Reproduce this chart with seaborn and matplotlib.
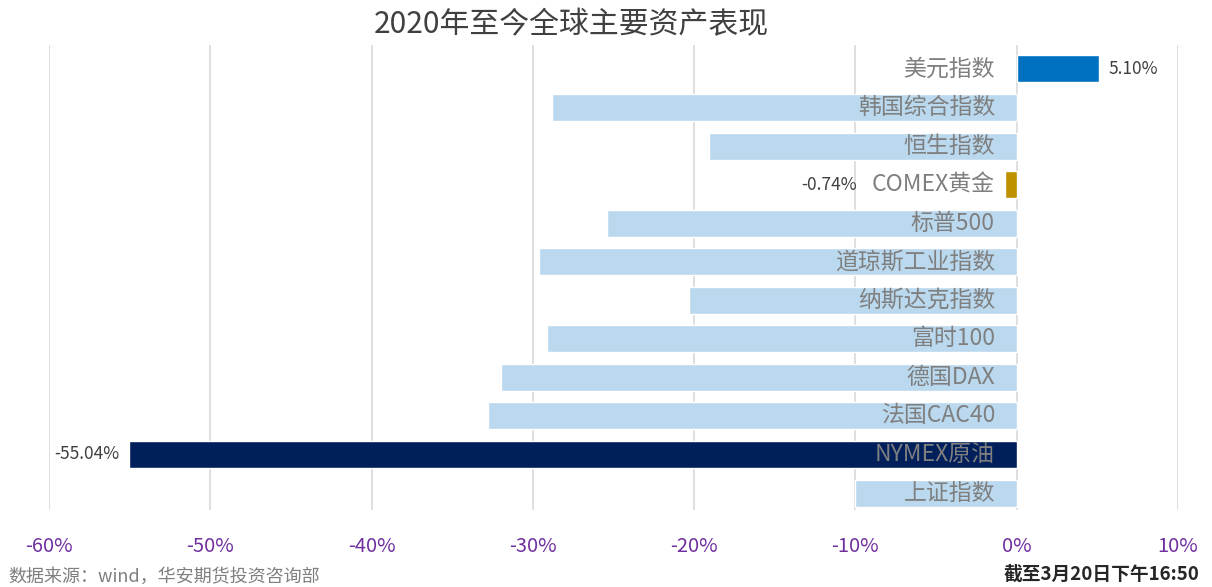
import matplotlib
matplotlib.use("Agg")
import matplotlib.pyplot as plt
import seaborn as sns
import pandas as pd

categories = ["美元指数", "韩国综合指数", "恒生指数", "COMEX黄金", "标普500", "道琼斯工业指数",
              "纳斯达克指数", "富时100", "德国DAX", "法国CAC40", "NYMEX原油", "上证指数"]
values = [5.10, -28.8, -19.1, -0.74, -25.4, -29.6, -20.3, -29.1, -32.0, -32.8, -55.04, -10.0]
labeled = {"美元指数": "5.10%", "COMEX黄金": "-0.74%", "NYMEX原油": "-55.04%"}
xticks = [-60, -50, -40, -30, -20, -10, 0, 10]

light = "#BAD8EE"
colors = {c: light for c in categories}
colors["美元指数"] = "#0070C0"
colors["COMEX黄金"] = "#BF9000"
colors["NYMEX原油"] = "#001F5B"

sns.set_theme(style="white")
plt.rcParams["font.family"] = ["Noto Sans CJK SC", "DejaVu Sans"]

df = pd.DataFrame({"cat": categories, "val": values})

fig = plt.figure(figsize=(12.12, 5.87), dpi=100)
ax = fig.add_axes([49 / 1212, 1 - 510 / 587, (1178 - 49) / 1212, (510 - 45) / 587])

sns.barplot(data=df, x="val", y="cat", hue="cat", palette=colors, legend=False,
            width=0.7, ax=ax, zorder=2, saturation=1)

ax.set_xlim(-60, 10)
ax.set_ylim(11.44, -0.62)
ax.set_xticks(xticks)
ax.set_xticklabels([f"{t}%" for t in xticks], color="#7030A0", fontsize=14.5)
ax.tick_params(axis="x", length=0, pad=19)
ax.set_yticks([])
ax.set_xlabel("")
ax.set_ylabel("")
for s in ax.spines.values():
    s.set_visible(False)
for t in xticks:
    ax.axvline(t, color="#D9D9D9", lw=1.2, zorder=1)

for i, (c, v) in enumerate(zip(categories, values)):
    ax.text(-1.35, i, c, ha="right", va="center", fontsize=16.5, color="#7F7F7F", zorder=3)
    if c in labeled:
        if v > 0:
            ax.text(v + 0.6, i, labeled[c], ha="left", va="center", fontsize=12.5, color="#404040")
        elif c == "COMEX黄金":
            ax.text(-9.9, i, labeled[c], ha="right", va="center", fontsize=12.5, color="#404040")
        else:
            ax.text(v - 0.6, i, labeled[c], ha="right", va="center", fontsize=12.5, color="#404040")

fig.text(571 / 1212, 1 - 25 / 587, "2020年至今全球主要资产表现", ha="center", va="center",
         fontsize=21.5, color="#404040")
fig.text(8 / 1212, 1 - 577 / 587, "数据来源：wind，华安期货投资咨询部", ha="left", va="center",
         fontsize=13, color="#7F7F7F")
fig.text(1200 / 1212, 1 - 574 / 587, "截至3月20日下午16:50", ha="right", va="center",
         fontsize=13.5, color="#262626", fontweight="bold")

fig.savefig("out.png", dpi=100)
